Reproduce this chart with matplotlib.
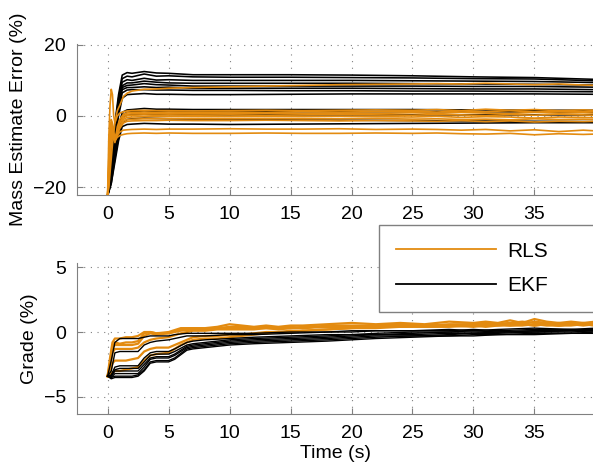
import numpy as np
import matplotlib
matplotlib.use('Agg')
import matplotlib.pyplot as plt
from matplotlib.lines import Line2D

plt.rcParams['font.family'] = ['Liberation Sans', 'DejaVu Sans']
plt.rcParams['font.size'] = 14

orange = '#e38b10'
gray = '#808080'

# ---- mass estimate error (%) ----
t_ekf_mass = [0, 0.3, 0.6, 0.9, 1.2, 1.6, 2, 3, 4, 5, 7, 10, 15, 20, 25, 30, 35, 40]
ekf_mass = [
    [-22.5, -12, -2, 6, 11.5, 12.2, 12.0, 12.5, 12.1, 12.0, 11.6, 11.6, 11.6, 11.5, 11.3, 11.0, 10.8, 10.3],
    [-22.5, -13, -3, 5, 10.5, 11.2, 11.0, 11.8, 11.2, 11.3, 11.0, 10.9, 10.9, 10.8, 10.7, 10.5, 10.4, 9.9],
    [-22.5, -13, -4, 4, 9.5, 10.2, 10.0, 10.6, 10.1, 10.2, 10.0, 10.0, 10.0, 10.0, 9.9, 9.8, 9.7, 9.4],
    [-22.5, -14, -4, 3, 8.5, 9.3, 9.3, 9.8, 9.5, 9.3, 9.2, 9.2, 9.2, 9.2, 9.1, 9.0, 8.9, 8.7],
    [-22.5, -14, -5, 3, 8.0, 8.6, 8.7, 9.1, 8.8, 8.7, 8.4, 8.4, 8.4, 8.4, 8.4, 8.3, 8.3, 8.1],
    [-22.5, -15, -5, 2, 7.4, 8.0, 8.0, 8.2, 8.0, 8.1, 7.8, 7.8, 7.8, 7.8, 7.7, 7.6, 7.6, 7.4],
    [-22.5, -15, -6, 1, 6.5, 7.3, 7.4, 7.4, 7.3, 7.3, 7.2, 7.2, 7.1, 7.1, 7.0, 7.0, 6.9, 6.8],
    [-22.5, -16, -7, 0, 5.0, 6.0, 6.1, 6.3, 6.1, 6.1, 6.0, 6.0, 6.1, 6.2, 6.2, 6.2, 6.2, 6.1],
    [-22.5, -17, -9, -3, 1.0, 1.7, 1.8, 2.1, 1.9, 1.9, 1.8, 1.8, 1.8, 1.8, 1.8, 1.7, 1.6, 1.6],
    [-22.5, -18, -10, -4, 0.3, 1.0, 1.2, 1.4, 1.3, 1.3, 1.2, 1.2, 1.2, 1.2, 1.2, 1.2, 1.1, 1.1],
    [-22.5, -18, -11, -5, -0.5, 0.2, 0.4, 0.5, 0.4, 0.4, 0.3, 0.3, 0.3, 0.3, 0.3, 0.3, 0.3, 0.3],
    [-22.5, -19, -12, -6, -2.0, -1.0, -0.8, -0.6, -0.7, -0.8, -0.9, -1.0, -1.1, -1.2, -1.3, -1.4, -1.5, -1.6],
    [-22.5, -19, -13, -7, -3.0, -2.4, -2.3, -2.1, -2.2, -2.3, -2.3, -2.4, -2.3, -2.2, -2.1, -2.0, -1.9, -1.9],
]

t_rls_mass = [0, 0.1, 0.2, 0.3, 0.4, 0.5, 0.6, 0.7, 0.8, 1.0, 1.3, 1.6, 2, 3, 4, 5, 7, 10,
              13, 16, 19, 22, 25, 27, 29, 31, 33, 35, 37, 39, 40]
rls_mass = [
    [-22.5, -20, -16, -12, -8, -5, -2, 0, 1.5, 3.0, 5.5, 6.4, 7.0, 7.5, 7.6, 7.8, 8.0, 8.2, 8.4, 8.6, 8.8, 8.9, 9.0, 9.1, 9.0, 9.2, 9.0, 8.8, 9.0, 8.7, 8.6],
    [-22.5, -6, 3, 7.5, 6, 0, -2, -1, 0, 0.8, 1.2, 1.4, 1.5, 1.6, 1.5, 1.5, 1.4, 1.5, 1.6, 1.5, 1.6, 1.7, 1.6, 1.8, 1.5, 1.9, 1.6, 1.8, 1.5, 1.7, 1.6],
    [-22.5, -12, -4, -1, -2, -5, -6, -5, -3, -1, 0.5, 0.9, 1.0, 1.1, 1.0, 1.1, 1.0, 1.1, 1.0, 1.2, 1.1, 1.2, 1.3, 1.1, 1.4, 1.2, 1.5, 1.1, 1.3, 1.2, 1.4],
    [-22.5, -14, -6, -2, -3, -6, -7, -6, -4, -2, 0, 0.5, 0.6, 0.7, 0.6, 0.7, 0.6, 0.7, 0.8, 0.7, 0.8, 0.7, 0.9, 0.7, 1.0, 0.8, 0.7, 1.0, 0.8, 0.9, 0.8],
    [-22.5, -15, -7, -3, -3, -6, -7.5, -6, -4, -2, -0.5, 0.1, 0.2, 0.3, 0.2, 0.3, 0.2, 0.3, 0.2, 0.3, 0.4, 0.3, 0.2, 0.4, 0.3, 0.1, 0.4, 0.2, 0.5, 0.3, 0.2],
    [-22.5, -16, -8, -4, -3, -5, -7, -6, -5, -3, -1, -0.4, -0.3, -0.2, -0.2, -0.1, -0.2, -0.2, -0.1, -0.2, -0.1, -0.2, -0.3, -0.1, -0.4, -0.2, -0.3, -0.6, -0.3, -0.4, -0.5],
    [-22.5, -17, -9, -4, -4, -5, -6.5, -6, -5, -3, -1.5, -1.0, -0.9, -0.8, -0.8, -0.7, -0.8, -0.8, -0.7, -0.8, -0.8, -0.7, -0.9, -0.8, -1.0, -0.9, -1.1, -0.8, -1.0, -0.9, -1.0],
    [-22.5, -18, -10, -5, -4, -5, -6, -6, -5, -3.5, -2, -1.5, -1.4, -1.3, -1.3, -1.2, -1.3, -1.3, -1.2, -1.3, -1.4, -1.3, -1.4, -1.5, -1.3, -1.6, -1.4, -1.7, -1.5, -1.6, -1.5],
    [-22.5, -18, -11, -6, -5, -6, -6.5, -6, -5.5, -4.5, -4.0, -3.9, -3.8, -3.7, -3.8, -3.7, -3.7, -3.6, -3.7, -3.7, -3.6, -3.8, -3.7, -3.8, -4.0, -3.8, -4.2, -3.9, -4.4, -4.0, -4.2],
    [-22.5, -19, -12, -7, -6, -6.5, -7, -6.5, -6, -5.5, -5.2, -5.0, -4.9, -4.8, -4.9, -4.8, -4.9, -4.9, -4.8, -4.9, -4.9, -4.8, -4.9, -4.8, -5.0, -5.1, -4.9, -5.3, -5.0, -5.2, -5.1],
]

# ---- grade (%) ----
t_ekf_grade = [0, 0.3, 0.6, 1.0, 2.0, 2.5, 3.0, 3.5, 4, 5, 5.5, 6.5, 7, 8, 10, 12, 15, 18, 20,
               22, 25, 28, 30, 32, 35, 38, 40]
ekf_grade = [
    [-3.4, -2.2, -0.8, -0.5, -0.5, -0.5, -0.4, -0.3, -0.3, -0.3, -0.2, -0.1, -0.1, -0.1, -0.1, -0.1, 0.0, 0.0, 0.1, 0.1, 0.1, 0.1, 0.2, 0.1, 0.2, 0.2, 0.2],
    [-3.4, -3.0, -1.6, -1.5, -1.5, -1.5, -1.0, -0.8, -0.7, -0.6, -0.5, -0.3, -0.3, -0.3, -0.2, -0.2, -0.1, 0.0, 0.0, 0.1, 0.1, 0.2, 0.1, 0.2, 0.3, 0.2, 0.3],
    [-3.4, -3.3, -2.7, -2.6, -2.6, -2.6, -2.0, -1.6, -1.5, -1.5, -1.3, -0.8, -0.7, -0.6, -0.5, -0.4, -0.3, -0.2, -0.2, -0.1, 0.0, 0.0, 0.1, 0.0, 0.1, 0.2, 0.1],
    [-3.4, -3.4, -2.9, -2.8, -2.8, -2.8, -2.3, -1.8, -1.7, -1.7, -1.5, -1.0, -0.9, -0.8, -0.6, -0.5, -0.4, -0.3, -0.2, -0.2, -0.1, 0.0, 0.0, 0.0, 0.1, 0.1, 0.1],
    [-3.4, -3.4, -3.0, -3.0, -3.0, -3.0, -2.5, -2.0, -1.9, -1.9, -1.7, -1.1, -1.0, -0.9, -0.7, -0.6, -0.5, -0.4, -0.3, -0.2, -0.2, -0.1, -0.1, 0.0, 0.0, 0.1, 0.1],
    [-3.4, -3.5, -3.2, -3.2, -3.2, -3.2, -2.7, -2.1, -2.0, -2.0, -1.8, -1.2, -1.1, -1.0, -0.8, -0.7, -0.6, -0.5, -0.4, -0.3, -0.3, -0.2, -0.1, -0.1, 0.0, 0.0, 0.1],
    [-3.4, -3.5, -3.4, -3.4, -3.4, -3.3, -2.9, -2.3, -2.2, -2.2, -2.0, -1.3, -1.2, -1.1, -0.9, -0.8, -0.7, -0.6, -0.5, -0.4, -0.3, -0.3, -0.2, -0.2, -0.1, -0.1, 0.0],
    [-3.4, -3.6, -3.5, -3.5, -3.5, -3.4, -3.0, -2.4, -2.3, -2.3, -2.1, -1.4, -1.3, -1.2, -1.0, -0.9, -0.8, -0.7, -0.6, -0.5, -0.4, -0.3, -0.3, -0.2, -0.2, -0.1, -0.1],
]

t_rls_grade = [0, 0.2, 0.4, 0.6, 1.0, 1.5, 2.0, 2.5, 3.0, 3.5, 4, 5, 6, 7, 8, 9, 10, 11, 12, 13,
               14, 15, 16, 18, 20, 22, 24, 26, 28, 30, 31, 32, 33, 34, 35, 36, 37, 38, 39, 40]
rls_grade = [
    [-3.4, -2.0, -0.8, -0.5, -0.5, -0.4, -0.4, -0.3, 0.0, 0.0, -0.1, 0.0, 0.3, 0.3, 0.3, 0.4, 0.6, 0.5, 0.4, 0.5, 0.4, 0.5, 0.5, 0.6, 0.7, 0.6, 0.7, 0.6, 0.8, 0.7, 0.8, 0.7, 0.9, 0.7, 1.0, 0.8, 0.7, 0.8, 0.7, 0.8],
    [-3.4, -2.4, -1.0, -0.8, -0.9, -0.8, -0.8, -0.7, -0.1, 0.0, -0.1, -0.1, 0.2, 0.3, 0.2, 0.3, 0.4, 0.4, 0.3, 0.4, 0.3, 0.4, 0.3, 0.5, 0.5, 0.5, 0.6, 0.5, 0.6, 0.6, 0.7, 0.6, 0.7, 0.8, 0.7, 0.6, 0.7, 0.6, 0.7, 0.6],
    [-3.4, -2.6, -1.2, -1.0, -1.0, -1.0, -1.0, -0.9, -0.3, -0.1, -0.2, -0.1, 0.1, 0.2, 0.2, 0.3, 0.3, 0.3, 0.3, 0.3, 0.3, 0.3, 0.4, 0.4, 0.4, 0.5, 0.5, 0.4, 0.5, 0.5, 0.6, 0.5, 0.6, 0.6, 0.5, 0.6, 0.5, 0.6, 0.5, 0.6],
    [-3.4, -2.8, -1.6, -1.3, -1.3, -1.3, -1.3, -1.2, -0.8, -0.6, -0.5, -0.4, -0.1, 0.1, 0.1, 0.2, 0.2, 0.2, 0.2, 0.3, 0.2, 0.3, 0.3, 0.4, 0.4, 0.4, 0.4, 0.5, 0.5, 0.4, 0.5, 0.6, 0.5, 0.5, 0.6, 0.5, 0.5, 0.5, 0.6, 0.5],
    [-3.4, -3.2, -2.4, -2.2, -2.2, -2.2, -2.1, -2.0, -1.5, -1.3, -1.2, -1.2, -0.8, -0.4, -0.3, -0.3, -0.2, -0.2, -0.1, 0.0, 0.0, 0.1, 0.1, 0.2, 0.3, 0.3, 0.4, 0.4, 0.4, 0.5, 0.4, 0.5, 0.5, 0.6, 0.5, 0.6, 0.5, 0.6, 0.6, 0.5],
    [-3.4, -3.3, -3.1, -3.0, -3.0, -2.9, -2.8, -2.7, -2.2, -1.8, -1.7, -1.6, -1.0, -0.6, -0.5, -0.5, -0.4, -0.3, -0.2, -0.1, 0.0, 0.0, 0.1, 0.2, 0.3, 0.4, 0.4, 0.5, 0.5, 0.6, 0.5, 0.6, 0.7, 0.6, 0.8, 0.7, 0.6, 0.7, 0.6, 0.7],
]

x_ticks = [0, 5, 10, 15, 20, 25, 30, 35]


def style(ax, yticks):
    for side in ['top', 'right']:
        ax.spines[side].set_visible(False)
    for side in ['left', 'bottom']:
        ax.spines[side].set_color(gray)
    ax.tick_params(direction='in', length=4, color=gray, pad=8)
    ax.set_xticks(x_ticks)
    ax.set_yticks(yticks)
    ax.grid(True, color=gray, linestyle=(0, (1, 5)), linewidth=0.8)
    ax.set_xlim(-2.5, 39.8)


fig = plt.figure(figsize=(5.93, 4.65), dpi=100)
ax1 = fig.add_axes([0.130, 0.581, 0.870, 0.324])
ax2 = fig.add_axes([0.130, 0.110, 0.870, 0.324])

for y in ekf_mass:
    ax1.plot(t_ekf_mass, y, color='black', lw=1.15)
for y in rls_mass:
    ax1.plot(t_rls_mass, y, color=orange, lw=1.2)
style(ax1, [-20, 0, 20])
ax1.set_ylim(-22.2, 20.2)
ax1.set_ylabel('Mass Estimate Error (%)')

for y in rls_grade:
    ax2.plot(t_rls_grade, y, color=orange, lw=1.6)
for y in ekf_grade:
    ax2.plot(t_ekf_grade, y, color='black', lw=1.0)
style(ax2, [-5, 0, 5])
ax2.set_ylim(-6.3, 5.3)
ax2.set_ylabel('Grade (%)')
ax2.set_xlabel('Time (s)', labelpad=2)

handles = [Line2D([], [], color=orange, lw=1.3), Line2D([], [], color='black', lw=1.3)]
leg = fig.legend(handles, ['RLS', 'EKF'], loc='upper left',
                 bbox_to_anchor=(379 / 593, 1 - 225 / 465, 0.40, 0.0), mode='expand',
                 borderaxespad=0, fontsize=15, handlelength=4.8, handletextpad=0.55,
                 labelspacing=0.75, borderpad=0.8, fancybox=False, framealpha=1)
leg.get_frame().set_edgecolor(gray)
leg.get_frame().set_linewidth(1.0)

fig.savefig('out.png', dpi=100)
